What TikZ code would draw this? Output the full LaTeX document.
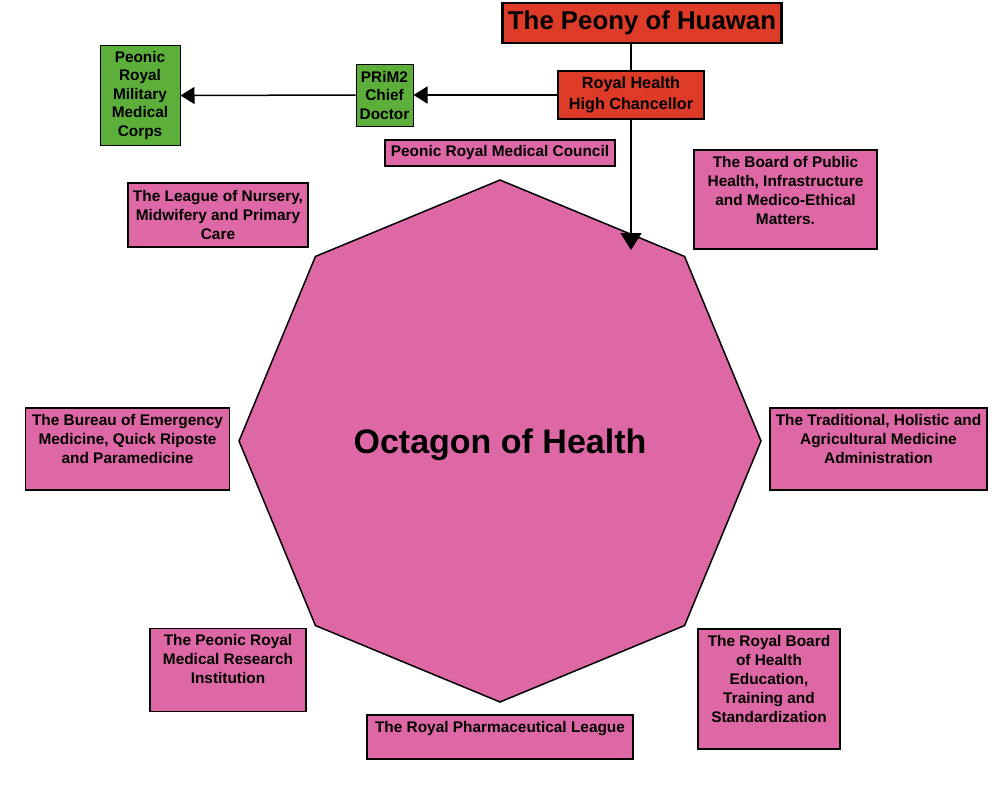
\documentclass[tikz,border=0pt]{standalone}
\usepackage{fontspec}
\setmainfont{Liberation Sans}
\usetikzlibrary{arrows.meta,shapes.geometric}
\definecolor{octpink}{RGB}{222,104,165}
\definecolor{chiefred}{RGB}{221,59,40}
\definecolor{corpsgreen}{RGB}{93,175,60}
\newcommand{\toptext}[3]{\parbox[t][#2][t]{#1}{\centering #3}}

\begin{document}
\begin{tikzpicture}[x=1pt,y=-1pt,
    every node/.style={font=\bfseries\fontsize{15.4}{19}\selectfont},
    unit/.style={draw, line width=1.5pt, fill=octpink, inner xsep=3pt, inner ysep=6pt, align=center},
    chiefbox/.style={draw, line width=2pt, fill=chiefred, align=center},
    corps/.style={draw, line width=1pt, fill=corpsgreen, inner sep=2pt, align=center,
        font=\bfseries\fontsize{15.4}{18.5}\selectfont},
    link/.style={line width=1.5pt, -{Triangle[length=14pt,width=17pt]}},
    biglink/.style={line width=1.5pt, -{Triangle[length=17pt,width=21pt]}}]
    \path[use as bounding box, fill=white] (0,0) rectangle (1000,800);

    % Octagon in the middle
    \node[regular polygon, regular polygon sides=8, shape border rotate=22.5, minimum size=522,
        draw, line width=1.5pt, fill=octpink, text depth=0pt, font=\bfseries\fontsize{34}{40}\selectfont]
        (octagon) at (500,441) {Octagon of Health};

    % Top of the chain
    \node[chiefbox, line width=2.5pt, minimum width=279, minimum height=40,
        font=\bfseries\fontsize{25.8}{30}\selectfont] (peony) at (642,23) {The Peony of Huawan};
    \node[chiefbox, minimum width=146, minimum height=48,
        font=\bfseries\fontsize{16.2}{21}\selectfont] (chancellor) at (631,95) {Royal Health\\High Chancellor};
    \node[corps, minimum width=57, minimum height=62] (chief) at (384.5,95) {PRiM2\\Chief\\Doctor};
    \node[corps, minimum width=80, minimum height=99] (military) at (140,95.5) {Peonic\\Royal\\Military\\Medical\\Corps};

    % Units round the octagon
    \node[unit, minimum width=230, minimum height=26] (council) at (500,153) {Peonic Royal Medical Council};
    \node[unit, minimum width=180, minimum height=64] (league) at (218,215) {The League of Nursery,\\Midwifery and Primary\\Care};
    \node[unit] (board) at (785.5,199.5) {\toptext{177pt}{87pt}{The Board of Public\\Health, Infrastructure\\and Medico-Ethical\\Matters.}};
    \node[unit] (bureau) at (127.5,449) {\toptext{198pt}{70pt}{The Bureau of Emergency\\Medicine, Quick Riposte\\and Paramedicine}};
    \node[unit] (traditional) at (878.5,449) {\toptext{211pt}{70pt}{The Traditional, Holistic and\\Agricultural Medicine\\Administration}};
    \node[unit] (research) at (228,670) {\toptext{150pt}{71pt}{The Peonic Royal\\Medical Research\\Institution}};
    \node[unit] (pharma) at (500,737) {\toptext{260pt}{32pt}{The Royal Pharmaceutical League}};
    \node[unit] (education) at (769,689) {\toptext{136pt}{108pt}{The Royal Board\\of Health\\Education,\\Training and\\Standardization}};

    % Connectors
    \coordinate (octin) at (631,250);
    \draw[line width=1.5pt] (chancellor.north) -- (chancellor.north |- peony.south);
    \draw[link] (chancellor.west) -- (chief.east);
    \draw[link] (chief.west) -- (military.east);
    \draw[biglink] (chancellor.south) -- (octin);
\end{tikzpicture}
\end{document}
